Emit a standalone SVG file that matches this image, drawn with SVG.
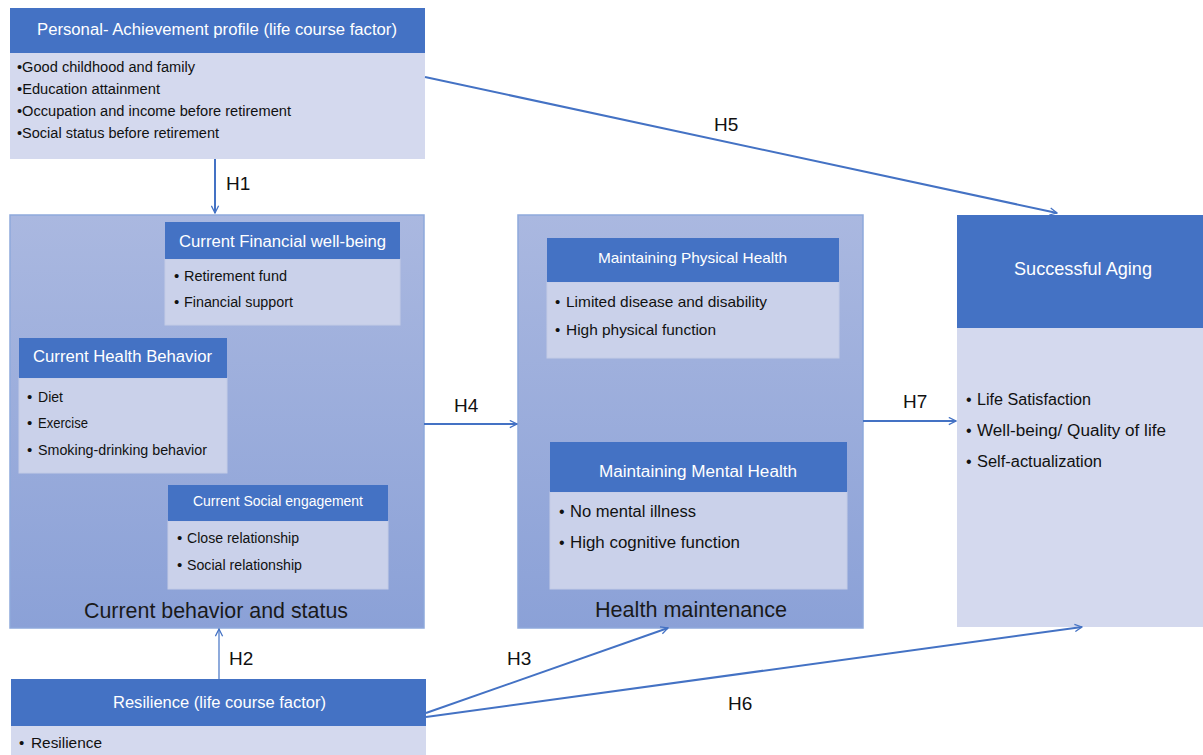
<svg xmlns="http://www.w3.org/2000/svg" width="1203" height="755" viewBox="0 0 1203 755">
<style>
text{font-family:"Liberation Sans",Arial,sans-serif;}
.hdr{fill:#4472C4;}
.body{fill:#D4D9EE;}
.ibody{fill:#CAD1EA;stroke:#C3CBE6;stroke-width:1;}
.ht{fill:#FFFFFF;}
.it{fill:#111111;}
.lbl{fill:#111111;font-size:19px;}
.cap{fill:#1A1A1A;font-size:22px;}
.outer{fill:url(#g);stroke:#8EA9DB;stroke-width:1.5;}
.con{stroke:#4472C4;stroke-width:2;fill:none;marker-end:url(#ah);}
</style>
<defs>
<linearGradient id="g" x1="0" y1="0" x2="0" y2="1">
<stop offset="0" stop-color="#AAB8E0"/>
<stop offset="1" stop-color="#8BA1D7"/>
</linearGradient>
<marker id="ah" viewBox="0 0 10 10" refX="9" refY="5" markerWidth="9" markerHeight="9" orient="auto" markerUnits="userSpaceOnUse">
<path d="M1,1 L9,5 L1,9" fill="none" stroke="#4472C4" stroke-width="1.4"/>
</marker>
</defs>

<g id="personal">
<rect class="hdr" x="10" y="8" width="415" height="45"/>
<rect class="body" x="10" y="53" width="415" height="106"/>
<text class="ht" x="37" y="35" font-size="16" textLength="360" lengthAdjust="spacingAndGlyphs">Personal- Achievement profile (life course factor)</text>
<text class="it" x="17" y="72" font-size="14" textLength="178" lengthAdjust="spacingAndGlyphs">•Good childhood and family</text>
<text class="it" x="17" y="94" font-size="14" textLength="143" lengthAdjust="spacingAndGlyphs">•Education attainment</text>
<text class="it" x="17" y="116" font-size="14" textLength="274" lengthAdjust="spacingAndGlyphs">•Occupation and income before retirement</text>
<text class="it" x="17" y="138" font-size="14" textLength="202" lengthAdjust="spacingAndGlyphs">•Social status before retirement</text>
</g>

<g id="current">
<rect class="outer" x="10" y="215" width="414" height="413"/>
<text class="cap" x="84" y="618" textLength="264" lengthAdjust="spacingAndGlyphs">Current behavior and status</text>
</g>

<g id="financial">
<rect class="ibody" x="165" y="259" width="235" height="66"/>
<rect class="hdr" x="165" y="222" width="235" height="37"/>
<text class="ht" x="179" y="247" font-size="16" textLength="207" lengthAdjust="spacingAndGlyphs">Current Financial well-being</text>
<text class="it" x="174" y="281" font-size="15">•</text>
<text class="it" x="184" y="281" font-size="14" textLength="103" lengthAdjust="spacingAndGlyphs">Retirement fund</text>
<text class="it" x="174" y="307" font-size="15">•</text>
<text class="it" x="184" y="307" font-size="14" textLength="109" lengthAdjust="spacingAndGlyphs">Financial support</text>
</g>

<g id="healthbehavior">
<rect class="ibody" x="19" y="378" width="208" height="95"/>
<rect class="hdr" x="19" y="338" width="208" height="40"/>
<text class="ht" x="33" y="362" font-size="16" textLength="179" lengthAdjust="spacingAndGlyphs">Current Health Behavior</text>
<text class="it" x="27" y="402" font-size="15">•</text>
<text class="it" x="38" y="402" font-size="14" textLength="25" lengthAdjust="spacingAndGlyphs">Diet</text>
<text class="it" x="27" y="428" font-size="15">•</text>
<text class="it" x="38" y="428" font-size="14" textLength="50" lengthAdjust="spacingAndGlyphs">Exercise</text>
<text class="it" x="27" y="455" font-size="15">•</text>
<text class="it" x="38" y="455" font-size="14" textLength="169" lengthAdjust="spacingAndGlyphs">Smoking-drinking behavior</text>
</g>

<g id="social">
<rect class="ibody" x="168" y="521" width="220" height="68"/>
<rect class="hdr" x="168" y="485" width="220" height="36"/>
<text class="ht" x="193" y="506" font-size="14" textLength="170" lengthAdjust="spacingAndGlyphs">Current Social engagement</text>
<text class="it" x="177" y="543" font-size="15">•</text>
<text class="it" x="187" y="543" font-size="14" textLength="112" lengthAdjust="spacingAndGlyphs">Close relationship</text>
<text class="it" x="177" y="570" font-size="15">•</text>
<text class="it" x="187" y="570" font-size="14" textLength="115" lengthAdjust="spacingAndGlyphs">Social relationship</text>
</g>

<g id="healthmaintenance">
<rect class="outer" x="518" y="215" width="345" height="413"/>
<text class="cap" x="595" y="617" textLength="192" lengthAdjust="spacingAndGlyphs">Health maintenance</text>
</g>

<g id="physical">
<rect class="ibody" x="547" y="282" width="292" height="76"/>
<rect class="hdr" x="547" y="238" width="292" height="44"/>
<text class="ht" x="598" y="263" font-size="15" textLength="189" lengthAdjust="spacingAndGlyphs">Maintaining Physical Health</text>
<text class="it" x="555" y="307" font-size="15">•</text>
<text class="it" x="566" y="307" font-size="15" textLength="201" lengthAdjust="spacingAndGlyphs">Limited disease and disability</text>
<text class="it" x="555" y="335" font-size="15">•</text>
<text class="it" x="566" y="335" font-size="15" textLength="150" lengthAdjust="spacingAndGlyphs">High physical function</text>
</g>

<g id="mental">
<rect class="ibody" x="550" y="492" width="297" height="97"/>
<rect class="hdr" x="550" y="442" width="297" height="50"/>
<text class="ht" x="599" y="477" font-size="16" textLength="198" lengthAdjust="spacingAndGlyphs">Maintaining Mental Health</text>
<text class="it" x="559" y="517" font-size="16">•</text>
<text class="it" x="570" y="517" font-size="16" textLength="126" lengthAdjust="spacingAndGlyphs">No mental illness</text>
<text class="it" x="559" y="548" font-size="16">•</text>
<text class="it" x="570" y="548" font-size="16" textLength="170" lengthAdjust="spacingAndGlyphs">High cognitive function</text>
</g>

<g id="successful">
<rect class="body" x="957" y="328" width="246" height="299"/>
<rect class="hdr" x="957" y="215" width="246" height="113"/>
<text class="ht" x="1014" y="275" font-size="19" textLength="138" lengthAdjust="spacingAndGlyphs">Successful Aging</text>
<text class="it" x="966" y="405" font-size="16">•</text>
<text class="it" x="977" y="405" font-size="16" textLength="114" lengthAdjust="spacingAndGlyphs">Life Satisfaction</text>
<text class="it" x="966" y="436" font-size="16">•</text>
<text class="it" x="977" y="436" font-size="16" textLength="189" lengthAdjust="spacingAndGlyphs">Well-being/ Quality of life</text>
<text class="it" x="966" y="467" font-size="16">•</text>
<text class="it" x="977" y="467" font-size="16" textLength="125" lengthAdjust="spacingAndGlyphs">Self-actualization</text>
</g>

<g id="resilience">
<rect class="hdr" x="11" y="679" width="415" height="47"/>
<rect class="body" x="11" y="726" width="415" height="29"/>
<text class="ht" x="113" y="708" font-size="16" textLength="213" lengthAdjust="spacingAndGlyphs">Resilience (life course factor)</text>
<text class="it" x="19" y="748" font-size="15">•</text>
<text class="it" x="31" y="748" font-size="15" textLength="71" lengthAdjust="spacingAndGlyphs">Resilience</text>
</g>

<g id="connectors">
<line class="con" x1="215" y1="159" x2="215" y2="213"/>
<line class="con" x1="425" y1="77" x2="1057" y2="213"/>
<line class="con" x1="424" y1="424" x2="517" y2="424"/>
<line class="con" x1="863" y1="421" x2="956" y2="421"/>
<line class="con" x1="219" y1="679" x2="219" y2="629" style="stroke-width:1.2"/>
<line class="con" x1="426" y1="713" x2="668" y2="628"/>
<line class="con" x1="426" y1="717" x2="1082" y2="627"/>
<text class="lbl" x="226" y="190">H1</text>
<text class="lbl" x="714" y="131">H5</text>
<text class="lbl" x="454" y="412">H4</text>
<text class="lbl" x="903" y="408">H7</text>
<text class="lbl" x="229" y="665">H2</text>
<text class="lbl" x="507" y="665">H3</text>
<text class="lbl" x="728" y="710">H6</text>
</g>
</svg>
